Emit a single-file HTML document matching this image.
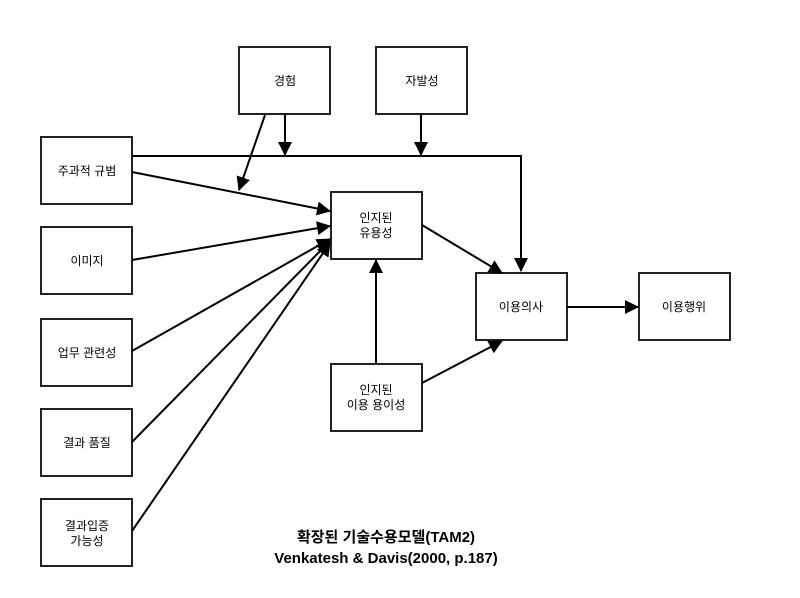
<!DOCTYPE html>
<html><head><meta charset="utf-8"><style>
body{margin:0;background:#fff;}
svg{display:block;font-family:"Liberation Sans","Noto Sans CJK KR",sans-serif;}
</style></head><body>
<svg width="800" height="598" viewBox="0 0 800 598">
<defs><marker id="a" markerWidth="10" markerHeight="10" refX="9" refY="5" orient="auto" markerUnits="userSpaceOnUse" viewBox="0 0 10 10"><path d="M0,0 L10,5 L0,10 z" fill="#000"/></marker>
<marker id="b" markerWidth="14" markerHeight="14" refX="13" refY="7" orient="auto" markerUnits="userSpaceOnUse" viewBox="0 0 14 14"><path d="M0,0 L14,7 L0,14 z" fill="#000"/></marker></defs>
<g fill="#fff" stroke="#222" stroke-width="2">
<rect x="239" y="47" width="91" height="67"/>
<rect x="376" y="47" width="91" height="67"/>
<rect x="41" y="137" width="91" height="67"/>
<rect x="41" y="227" width="91" height="67"/>
<rect x="41" y="319" width="91" height="67"/>
<rect x="41" y="409" width="91" height="67"/>
<rect x="41" y="499" width="91" height="67"/>
<rect x="331" y="192" width="91" height="67"/>
<rect x="476" y="273" width="91" height="67"/>
<rect x="639" y="273" width="91" height="67"/>
<rect x="331" y="364" width="91" height="67"/>
</g>
<g stroke="#000" stroke-width="2" fill="none">
<polyline points="132,156 521,156 521,271" marker-end="url(#b)"/>
<line x1="285" y1="114" x2="285" y2="155" marker-end="url(#b)"/>
<line x1="421" y1="114" x2="421" y2="155" marker-end="url(#b)"/>
<line x1="265" y1="115" x2="239" y2="190" marker-end="url(#b)"/>
<line x1="132" y1="172" x2="330" y2="211" marker-end="url(#b)"/>
<line x1="132" y1="260" x2="330" y2="226" marker-end="url(#b)"/>
<line x1="132" y1="351" x2="330" y2="239" marker-end="url(#b)"/>
<line x1="132" y1="442" x2="330" y2="241" marker-end="url(#b)"/>
<line x1="132" y1="531" x2="330" y2="243" marker-end="url(#b)"/>
<line x1="422" y1="225" x2="502" y2="273" marker-end="url(#b)"/>
<line x1="422" y1="383" x2="502" y2="341" marker-end="url(#b)"/>
<line x1="376" y1="364" x2="376" y2="260" marker-end="url(#b)"/>
<line x1="567" y1="307" x2="638" y2="307" marker-end="url(#b)"/>
</g>
<g font-size="12" text-anchor="middle" fill="#000">
<text x="285" y="85">경험</text>
<text x="422" y="85">자발성</text>
<text x="87" y="175">주과적 규범</text>
<text x="87" y="265">이미지</text>
<text x="87" y="357">업무 관련성</text>
<text x="87" y="447">결과 품질</text>
<text x="87" y="530">결과입증</text>
<text x="87" y="545">가능성</text>
<text x="376" y="222">인지된</text>
<text x="376" y="237">유용성</text>
<text x="521" y="311">이용의사</text>
<text x="684" y="311">이용행위</text>
<text x="376" y="394">인지된</text>
<text x="376" y="409">이용 용이성</text>
</g>
<g font-size="15" font-weight="bold" text-anchor="middle" fill="#000">
<text x="386" y="542">확장된 기술수용모델(TAM2)</text>
<text x="386" y="563">Venkatesh &amp; Davis(2000, p.187)</text>
</g>
</svg>
</body></html>
